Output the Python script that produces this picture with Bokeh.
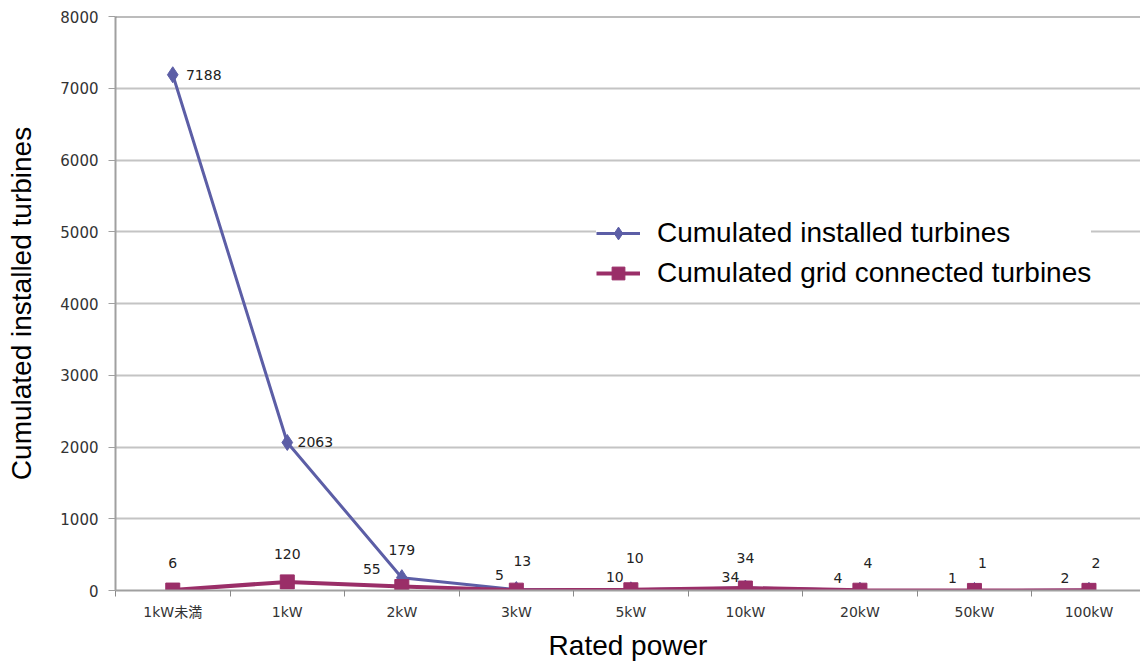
from bokeh.plotting import figure
from bokeh.models import (Range1d, FixedTicker, Legend, LegendItem,
                          ColumnDataSource, Span)
from bokeh.core.properties import value
from bokeh.embed import file_html
from bokeh.resources import INLINE

# Rated power classes and cumulated turbine counts
ratings = ["1kW未満", "1kW", "2kW", "3kW", "5kW", "10kW", "20kW", "50kW", "100kW"]
installed = [7188, 2063, 179, 13, 10, 34, 4, 1, 2]
grid_connected = [6, 120, 55, 5, 10, 34, 4, 1, 2]
y_ticks = [0, 1000, 2000, 3000, 4000, 5000, 6000, 7000, 8000]

# Pixel offsets of the value labels around each point
installed_dx = [31, 28, 0, 6, 4, 0, 8, 8, 7]
installed_dy = [0, 0, -28, -29, -32, -30, -27, -27, -27]
grid_dx = [0, 0, -30, -17, -16, -15, -22, -22, -24]
grid_dy = [-27, -28, -18, -15, -13, -11, -12, -12, -12]

BLUE = "#5c5ea6"
PLUM = "#9a2e68"
FONT = "Liberation Sans"
NUM_FONT = "DejaVu Sans"
TICK_FONT = "'DejaVu Sans', 'Noto Sans CJK JP'"

centers = [i + 0.5 for i in range(len(ratings))]
bounds = list(range(len(ratings) + 1))

src_inst = ColumnDataSource(dict(
    x=centers, y=installed, txt=[str(v) for v in installed],
    dx=installed_dx, dy=installed_dy))
src_grid = ColumnDataSource(dict(
    x=centers, y=grid_connected, txt=[str(v) for v in grid_connected],
    dx=grid_dx, dy=grid_dy))

p = figure(width=1140, height=663,
           x_range=Range1d(0, 8.95), y_range=Range1d(0, y_ticks[-1]),
           output_backend="svg", toolbar_location=None,
           min_border_left=115, min_border_right=0,
           min_border_top=16, min_border_bottom=73)
p.outline_line_color = None
p.background_fill_color = "white"
p.border_fill_color = "white"

# grid
p.xgrid.grid_line_color = None
p.ygrid.ticker = FixedTicker(ticks=y_ticks)
p.ygrid.grid_line_color = "#c4c4c4"
p.ygrid.grid_line_width = 2
p.add_layout(Span(location=y_ticks[-1], dimension="width",
                  line_color="#7a7a7a", line_width=2))

# x axis: labels at category centres, ticks at category boundaries
xa = p.xaxis[0]
xa.ticker = FixedTicker(ticks=centers, minor_ticks=bounds)
xa.major_label_overrides = {c: r for c, r in zip(centers, ratings)}
xa.major_tick_out = 0
xa.major_tick_in = 0
xa.minor_tick_out = 6
xa.minor_tick_in = 0
xa.minor_tick_line_color = "#8a8a8a"
xa.minor_tick_line_width = 1
xa.axis_line_color = "#a0a0a0"
xa.axis_line_width = 2
xa.major_label_text_font = TICK_FONT
xa.major_label_text_font_size = "14px"
xa.major_label_text_color = "#333333"
xa.major_label_standoff = 7
xa.axis_label = "Rated power"
xa.axis_label_text_font = FONT
xa.axis_label_text_font_size = "28px"
xa.axis_label_text_font_style = "normal"
xa.axis_label_text_color = "#000000"
xa.axis_label_standoff = 7

# y axis
ya = p.yaxis[0]
ya.ticker = FixedTicker(ticks=y_ticks)
ya.major_tick_out = 7
ya.major_tick_in = 0
ya.minor_tick_line_color = None
ya.major_tick_line_color = "#a0a0a0"
ya.axis_line_color = "#a0a0a0"
ya.axis_line_width = 2
ya.major_label_text_font = NUM_FONT
ya.major_label_text_font_size = "15px"
ya.major_label_text_color = "#333333"
ya.major_label_standoff = 10
ya.axis_label = "Cumulated installed turbines"
ya.axis_label_text_font = FONT
ya.axis_label_text_font_size = "28px"
ya.axis_label_text_font_style = "normal"
ya.axis_label_text_color = "#000000"
ya.axis_label_standoff = 20

# series
l1 = p.line("x", "y", source=src_inst, line_color=BLUE, line_width=3)
m1 = p.scatter("x", "y", source=src_inst, marker="diamond", size=16,
               fill_color=BLUE, line_color=BLUE)
l2 = p.line("x", "y", source=src_grid, line_color=PLUM, line_width=4)
m2 = p.scatter("x", "y", source=src_grid, marker="square", size=14,
               fill_color=PLUM, line_color=PLUM)

# value labels
for src in (src_inst, src_grid):
    p.text("x", "y", text="txt", source=src, x_offset="dx", y_offset="dy",
           text_font=value(NUM_FONT), text_font_size="14px",
           text_color="#222222", text_align="center",
           text_baseline="middle")

legend = Legend(items=[
    LegendItem(label="Cumulated installed turbines", renderers=[l1, m1]),
    LegendItem(label="Cumulated grid connected turbines", renderers=[l2, m2]),
], location=(481, 301))
legend.label_text_font = FONT
legend.label_text_font_size = "28px"
legend.label_text_color = "#000000"
legend.glyph_width = 44
legend.glyph_height = 32
legend.label_height = 32
legend.label_standoff = 17
legend.spacing = 8
legend.padding = 10
legend.border_line_color = None
legend.background_fill_color = "white"
legend.background_fill_alpha = 1.0
p.add_layout(legend)

open("out.html", "w").write(file_html(p, INLINE))
